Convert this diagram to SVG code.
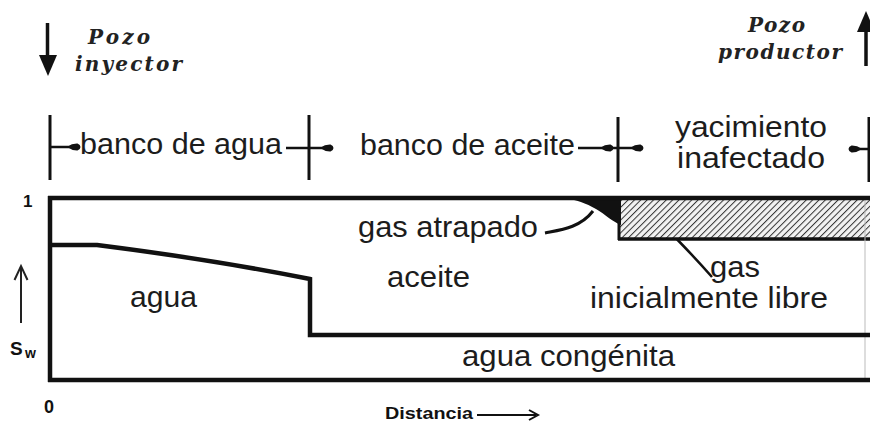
<svg xmlns="http://www.w3.org/2000/svg" width="870" height="423" viewBox="0 0 870 423">
<style>
.lbl{font-family:"Liberation Sans",Arial,sans-serif;font-size:29px;fill:#1c1c1c}
.it{font-family:"DejaVu Serif",serif;font-style:italic;font-weight:bold;font-size:20px;fill:#222}
.ax{font-family:"Liberation Sans",Arial,sans-serif;font-weight:bold;fill:#111}
.bar{stroke:#111;stroke-width:3;fill:none}
.arr{stroke:#111;stroke-width:2.5;fill:none}
.thick{stroke:#111;stroke-width:4.5;fill:none}
</style>
<defs>
<marker id="blob" viewBox="-12 -4 14 8" markerWidth="14" markerHeight="8" markerUnits="userSpaceOnUse" refX="0" refY="0" orient="auto">
<path d="M-12,0 Q-7,-3.6 -1.5,-3.4 Q1.5,-2.2 1.5,0 Q1.5,2.2 -1.5,3.4 Q-7,3.6 -12,0 Z" fill="#111"/>
</marker>
<pattern id="hatch" patternUnits="userSpaceOnUse" width="4.5" height="4.5" patternTransform="rotate(45)">
<rect width="4.5" height="4.5" fill="#f2f2f2"/>
<line x1="0" y1="0" x2="0" y2="4.5" stroke="#333" stroke-width="2"/>
</pattern>
</defs>
<rect width="870" height="423" fill="#fff"/>

<g id="pozo-inyector">
<line x1="47.5" y1="23" x2="47.5" y2="58" stroke="#111" stroke-width="3.5"/>
<polygon points="39,55 57,55 48,76" fill="#111"/>
<text class="it" x="88" y="44" textLength="62" lengthAdjust="spacing">Pozo</text>
<text class="it" x="75" y="71" textLength="107" lengthAdjust="spacing">inyector</text>
</g>

<g id="pozo-productor">
<line x1="866" y1="66" x2="866" y2="28" stroke="#111" stroke-width="3.5"/>
<polygon points="857,32 875,32 866,11" fill="#111"/>
<text class="it" x="748" y="32" textLength="57" lengthAdjust="spacing">Pozo</text>
<text class="it" x="718" y="59" textLength="124" lengthAdjust="spacing">productor</text>
</g>

<g id="connectors">
<line class="bar" x1="50" y1="115" x2="50" y2="180"/>
<line class="arr" x1="50" y1="147" x2="79" y2="147" marker-end="url(#blob)"/>
<line class="arr" x1="286" y1="148" x2="309" y2="148"/>
<line class="bar" x1="309" y1="115" x2="309" y2="180"/>
<line class="arr" x1="309" y1="148" x2="332" y2="148" marker-end="url(#blob)"/>
<line class="arr" x1="578" y1="148" x2="612" y2="148" marker-end="url(#blob)"/>
<line class="arr" x1="612" y1="148" x2="618" y2="148"/>
<line class="bar" x1="618" y1="117" x2="618" y2="182"/>
<line class="arr" x1="618" y1="148" x2="642" y2="148" marker-end="url(#blob)"/>
<line class="arr" x1="870" y1="149" x2="850" y2="149" marker-end="url(#blob)"/>
<line class="bar" x1="869" y1="117" x2="869" y2="182"/>
<path d="M545,233 C560,230 580,228 593,211" stroke="#111" stroke-width="3" fill="none"/>
<path d="M660,222 C672,234 690,252 712,277" stroke="#111" stroke-width="2.5" fill="none"/>
<line x1="21" y1="323" x2="21" y2="267" stroke="#222" stroke-width="2"/>
<polyline points="14.5,280 21,266 27.5,280" stroke="#222" stroke-width="2" fill="none"/>
<line x1="477" y1="415" x2="536" y2="415" stroke="#111" stroke-width="2"/>
<polyline points="529,410 538,415 529,420" stroke="#111" stroke-width="2" fill="none"/>
</g>

<g id="band-labels">
<text class="lbl" x="80" y="154" textLength="202" lengthAdjust="spacingAndGlyphs">banco de agua</text>
<text class="lbl" x="360" y="155" textLength="215" lengthAdjust="spacingAndGlyphs">banco de aceite</text>
<text class="lbl" x="675" y="137" textLength="152" lengthAdjust="spacingAndGlyphs">yacimiento</text>
<text class="lbl" x="677" y="168" textLength="148" lengthAdjust="spacingAndGlyphs">inafectado</text>
</g>

<g id="chart">
<rect x="618" y="199" width="252" height="40" fill="url(#hatch)"/>
<path d="M618,239 L870,239" stroke="#111" stroke-width="3.5"/>
<path d="M619,215 L619,240" stroke="#111" stroke-width="3"/>
<path d="M565,198 L621,198 L621,225 C613,222 606,215 596,209 C586,203 576,200 565,198 Z" fill="#111"/>
<line x1="865" y1="198" x2="865" y2="380" stroke="#bbb" stroke-width="1"/>
<path class="thick" d="M48,198 L870,198"/>
<path class="thick" d="M50,196 L50,382"/>
<path class="thick" d="M48,380 L870,380"/>
<path class="thick" d="M50,245 L97,245 C160,253 250,267 310,279 L310,335 L870,335"/>
</g>

<g id="region-labels">
<text class="lbl" x="358" y="237" textLength="180" lengthAdjust="spacingAndGlyphs">gas atrapado</text>
<text class="lbl" x="387" y="287" textLength="83" lengthAdjust="spacingAndGlyphs">aceite</text>
<text class="lbl" x="130" y="307" textLength="67" lengthAdjust="spacingAndGlyphs">agua</text>
<text class="lbl" x="710" y="277" textLength="50" lengthAdjust="spacingAndGlyphs">gas</text>
<text class="lbl" x="590" y="308" textLength="238" lengthAdjust="spacingAndGlyphs">inicialmente libre</text>
<text class="lbl" x="462" y="366" textLength="213" lengthAdjust="spacingAndGlyphs">agua congénita</text>
</g>

<g id="axes">
<text class="ax" x="23" y="207" font-size="17">1</text>
<text class="ax" x="44" y="413" font-size="18">0</text>
<text class="ax" x="10" y="355" font-size="19">S</text>
<text class="ax" x="25" y="358" font-size="14">w</text>
<text class="ax" x="385" y="419" font-size="17" textLength="88" lengthAdjust="spacingAndGlyphs">Distancia</text>
</g>
</svg>
